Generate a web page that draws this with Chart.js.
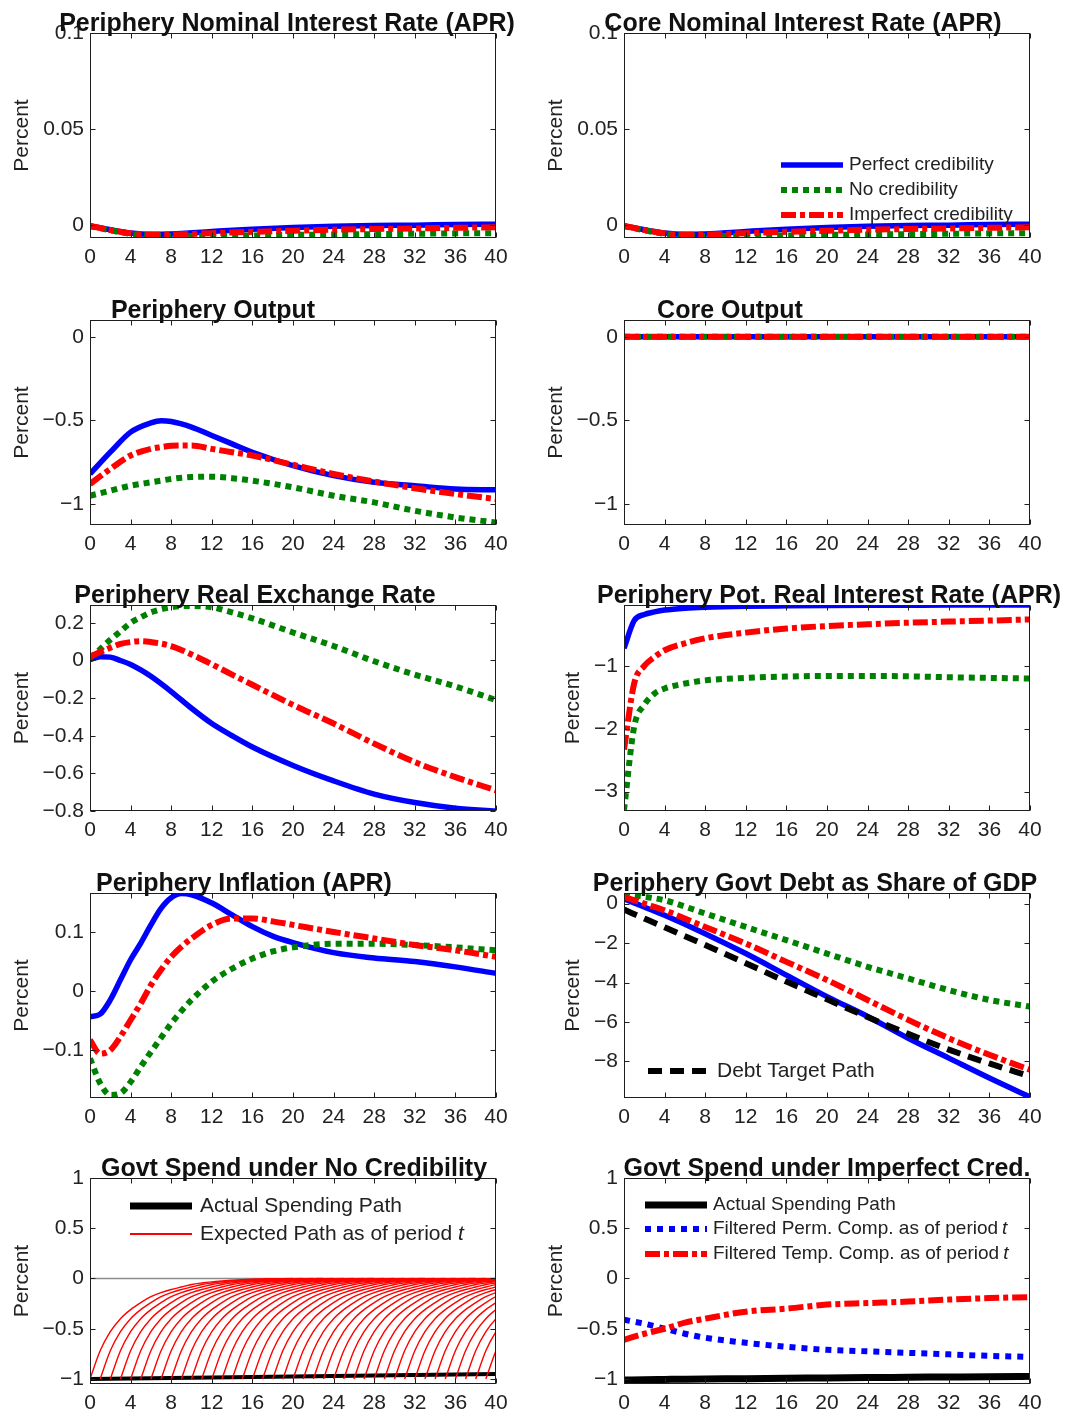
<!DOCTYPE html>
<html><head><meta charset="utf-8">
<script src="https://cdn.jsdelivr.net/npm/chart.js@4.4.1/dist/chart.umd.min.js"></script>
<style>
html,body{margin:0;padding:0;background:#fff;}
#wrap{position:relative;width:1067px;height:1413px;overflow:hidden;background:#fff;}
canvas{position:absolute;}
</style></head><body><div id="wrap"></div>
<script>
// ---------------- DATA ----------------
const xTicks = [0,4,8,12,16,20,24,28,32,36,40];

// Nominal interest rates (APR)
const nomX = [0,2,4,6,8,12,16,20,24,28,32,36,40];
const perNomPerfect   = [-0.0005,-0.0025,-0.0042,-0.0049,-0.0047,-0.0034,-0.0022,-0.0013,-0.0007,-0.0003,-0.0001,0.0002,0.0004];
const perNomNo        = [-0.0006,-0.0028,-0.0047,-0.0055,-0.0057,-0.0057,-0.0055,-0.0052,-0.0050,-0.0048,-0.0046,-0.0044,-0.0043];
const perNomImperfect = [-0.0005,-0.0026,-0.0044,-0.0051,-0.0050,-0.0043,-0.0036,-0.0030,-0.0025,-0.0021,-0.0018,-0.0015,-0.0012];
const coreNomPerfect   = [-0.0005,-0.0025,-0.0042,-0.0049,-0.0047,-0.0034,-0.0022,-0.0013,-0.0007,-0.0003,-0.0001,0.0002,0.0004];
const coreNomNo        = [-0.0006,-0.0028,-0.0047,-0.0055,-0.0057,-0.0057,-0.0055,-0.0052,-0.0050,-0.0048,-0.0046,-0.0044,-0.0043];
const coreNomImperfect = [-0.0005,-0.0026,-0.0044,-0.0051,-0.0050,-0.0043,-0.0036,-0.0030,-0.0025,-0.0021,-0.0018,-0.0015,-0.0012];
const nomYTicks = [0,0.05,0.1];

// Output
const outX = [0,2,4,6,7,8,10,12,14,16,20,24,28,32,36,40];
const perOutPerfect   = [-0.82,-0.69,-0.57,-0.515,-0.502,-0.507,-0.54,-0.59,-0.64,-0.69,-0.77,-0.83,-0.87,-0.89,-0.91,-0.915];
const perOutNo        = [-0.95,-0.92,-0.89,-0.87,-0.86,-0.85,-0.838,-0.836,-0.845,-0.86,-0.90,-0.95,-0.99,-1.04,-1.08,-1.11];
const perOutImperfect = [-0.88,-0.79,-0.71,-0.67,-0.66,-0.652,-0.65,-0.67,-0.69,-0.71,-0.765,-0.82,-0.865,-0.905,-0.94,-0.97];
const coreOutX = [0,4,8,12,16,20,24,28,32,36,40];
const coreOutPerfect   = [0,0,0,0,0,0,0,0,0,0,0];
const coreOutNo        = [0,0,0,0,0,0,0,0,0,0,0];
const coreOutImperfect = [0,0,0,0,0,0,0,0,0,0,0];
const outYTicks = [-1,-0.5,0];

// Real exchange rate
const rerX = [0,1,2,3,4,5,6,8,10,12,14,16,20,24,28,32,36,40];
const rerPerfect   = [0.005,0.02,0.018,0.0,-0.021,-0.05,-0.084,-0.165,-0.254,-0.335,-0.40,-0.46,-0.558,-0.64,-0.71,-0.755,-0.785,-0.80];
const rerNo        = [0.014,0.06,0.11,0.155,0.20,0.23,0.256,0.283,0.29,0.283,0.256,0.224,0.149,0.077,-0.004,-0.075,-0.138,-0.21];
const rerImperfect = [0.02,0.045,0.068,0.088,0.098,0.103,0.098,0.077,0.032,-0.02,-0.075,-0.129,-0.236,-0.335,-0.442,-0.54,-0.62,-0.69];
const rerYTicks = [-0.8,-0.6,-0.4,-0.2,0,0.2];

// Potential real interest rate
const prrX = [0,1,2,3,4,6,8,12,16,20,24,28,32,36,40];
const prrPerfect   = [-0.72,-0.28,-0.18,-0.14,-0.11,-0.08,-0.065,-0.05,-0.043,-0.038,-0.035,-0.033,-0.031,-0.03,-0.03];
const prrNo        = [-3.29,-1.97,-1.62,-1.44,-1.36,-1.28,-1.23,-1.19,-1.17,-1.16,-1.16,-1.165,-1.18,-1.19,-1.20];
const prrImperfect = [-2.33,-1.28,-1.0,-0.86,-0.75,-0.64,-0.56,-0.47,-0.405,-0.365,-0.337,-0.312,-0.294,-0.278,-0.26];
const prrYTicks = [-3,-2,-1];

// Inflation (APR)
const infX = [0,1,2,3,4,5,6,7,8,9,10,12,14,16,18,20,24,28,32,36,40];
const infPerfect   = [-0.0435,-0.039,-0.015,0.019,0.053,0.081,0.112,0.14,0.158,0.165,0.163,0.149,0.129,0.109,0.093,0.082,0.065,0.056,0.05,0.041,0.03];
const infNo        = [-0.114,-0.156,-0.176,-0.173,-0.154,-0.128,-0.103,-0.079,-0.055,-0.034,-0.015,0.016,0.038,0.055,0.067,0.074,0.08,0.08,0.078,0.074,0.069];
const infImperfect = [-0.083,-0.106,-0.10,-0.077,-0.049,-0.021,0.01,0.036,0.058,0.075,0.089,0.112,0.123,0.123,0.118,0.112,0.10,0.089,0.078,0.069,0.058];
const infYTicks = [-0.1,0,0.1];

// Government debt as share of GDP
const debtX = [0,2,4,8,12,16,20,24,28,32,36,40];
const debtPerfect   = [0.25,-0.17,-0.59,-1.52,-2.53,-3.62,-4.71,-5.72,-6.82,-7.83,-8.84,-9.8];
const debtNo        = [0.5,0.35,0.17,-0.5,-1.18,-1.85,-2.53,-3.2,-3.79,-4.38,-4.88,-5.22];
const debtImperfect = [0.34,0.0,-0.34,-1.18,-2.02,-2.95,-3.87,-4.88,-5.89,-6.82,-7.66,-8.42];
const debtTarget    = [-0.3,-0.75,-1.2,-2.1,-3.02,-3.95,-4.85,-5.75,-6.6,-7.4,-8.1,-8.75];
const debtYTicks = [-8,-6,-4,-2,0];

// Govt spending under no credibility
const spendX = [0,8,16,24,32,40];
const actualSpendNo = [-1.0,-0.99,-0.98,-0.97,-0.96,-0.95];
const expectedProfile = [-1,-0.72,-0.53,-0.4,-0.31,-0.24,-0.18,-0.14,-0.11,-0.085,-0.06,-0.045,-0.034,-0.025,-0.017,-0.011,-0.007,-0.004,-0.002,-0.001,0];
const spendYTicks = [-1,-0.5,0,0.5,1];

// Govt spending under imperfect credibility
const impX = [0,2,4,6,8,12,16,20,24,28,32,36,40];
const actualSpendImp = [-1.01,-1.008,-1.005,-1.002,-1.0,-0.997,-0.993,-0.99,-0.986,-0.983,-0.98,-0.977,-0.975];
const filteredPerm   = [-0.41,-0.45,-0.5,-0.55,-0.59,-0.64,-0.68,-0.71,-0.725,-0.74,-0.755,-0.77,-0.78];
const filteredTemp   = [-0.61,-0.55,-0.5,-0.44,-0.4,-0.33,-0.3,-0.26,-0.245,-0.23,-0.21,-0.195,-0.185];

// ---------------- STYLE / LAYOUT ----------------
const FONT = '"Liberation Sans", Arial, Helvetica, sans-serif';
Chart.defaults.font.family = FONT;
Chart.defaults.font.size = 21;
Chart.defaults.color = '#222';

const BLUE = '#0000ff', GREEN = '#008000', RED = '#ff0000', BLACK = '#000000';
const S = {
  perfect:   {color: BLUE,  width: 5.5, dash: []},
  no:        {color: GREEN, width: 6, dash: [6,5]},
  imperfect: {color: RED,   width: 6, dash: [15,4,5,4]},
  target:    {color: BLACK, width: 6, dash: [14,8]},
  actual:    {color: BLACK, width: 7, dash: []},
  actualThin:{color: BLACK, width: 4, dash: []},
  perm:      {color: BLUE,  width: 6, dash: [6,6]},
  expected:  {color: RED,   width: 1.4, dash: []},
  zero:      {color: '#8c8c8c', width: 1.5, dash: []}
};

function pts(xs, ys){ return xs.map((x,i)=>({x:x, y:ys[i]})); }
function ds(xs, ys, st, order){
  return {data: pts(xs, ys), borderColor: st.color, borderWidth: st.width, borderDash: st.dash,
    borderCapStyle: 'butt', borderJoinStyle: 'round', pointRadius: 0, fill: false,
    cubicInterpolationMode: 'monotone', order: order};
}
function fmt(v){
  if (Math.abs(v) < 1e-12) return '0';
  return String(+(+v).toFixed(4)).replace('-', '\u2212');
}

const ROWS = [{top:0,h:283},{top:283,h:287},{top:570,h:285},{top:855,h:285},{top:1140,h:273}];
const COLS = [0, 534];
const CW = 533;

const credLegend = (x0, ys, tx, size) => [
  {label:'Perfect credibility', st:S.perfect, y:ys[0]},
  {label:'No credibility', st:S.no, y:ys[1]},
  {label:'Imperfect credibility', st:S.imperfect, y:ys[2]}
].map(o => Object.assign(o, {x0:x0, x1:x0+62, tx:tx, size:size}));

const fan = [];
for (let t = 0; t < 40; t++) {
  const xs = expectedProfile.map((_, k) => t + k);
  fan.push(ds(xs, expectedProfile, S.expected, 2));
}

const panels = [
  {col:0,row:0, rect:[90,33,496,238], ymin:-0.0068, ymax:0.1, yTicks:nomYTicks,
   title:'Periphery Nominal Interest Rate (APR)', titleCx:287, ylabX:22,
   datasets:[ds(nomX,perNomPerfect,S.perfect,3), ds(nomX,perNomNo,S.no,2), ds(nomX,perNomImperfect,S.imperfect,1)]},
  {col:1,row:0, rect:[624,33,1030,238], ymin:-0.0068, ymax:0.1, yTicks:nomYTicks,
   title:'Core Nominal Interest Rate (APR)', titleCx:803, ylabX:556,
   datasets:[ds(nomX,coreNomPerfect,S.perfect,3), ds(nomX,coreNomNo,S.no,2), ds(nomX,coreNomImperfect,S.imperfect,1)],
   legend: credLegend(781,[165,190,215],849,19)},
  {col:0,row:1, rect:[90,320,496,525], ymin:-1.125, ymax:0.1, yTicks:outYTicks,
   title:'Periphery Output', titleCx:213, ylabX:22,
   datasets:[ds(outX,perOutPerfect,S.perfect,3), ds(outX,perOutNo,S.no,2), ds(outX,perOutImperfect,S.imperfect,1)]},
  {col:1,row:1, rect:[624,320,1030,525], ymin:-1.125, ymax:0.1, yTicks:outYTicks,
   title:'Core Output', titleCx:730, ylabX:556,
   datasets:[ds(coreOutX,coreOutPerfect,S.perfect,3), ds(coreOutX,coreOutNo,S.no,2), ds(coreOutX,coreOutImperfect,S.imperfect,1)]},
  {col:0,row:2, rect:[90,605,496,811], ymin:-0.8, ymax:0.295, yTicks:rerYTicks,
   title:'Periphery Real Exchange Rate', titleCx:255, ylabX:22,
   datasets:[ds(rerX,rerPerfect,S.perfect,3), ds(rerX,rerNo,S.no,2), ds(rerX,rerImperfect,S.imperfect,1)]},
  {col:1,row:2, rect:[624,605,1030,811], ymin:-3.31, ymax:-0.03, yTicks:prrYTicks,
   title:'Periphery Pot. Real Interest Rate (APR)', titleCx:829, ylabX:573,
   datasets:[ds(prrX,prrPerfect,S.perfect,3), ds(prrX,prrNo,S.no,2), ds(prrX,prrImperfect,S.imperfect,1)]},
  {col:0,row:3, rect:[90,893,496,1098], ymin:-0.181, ymax:0.166, yTicks:infYTicks,
   title:'Periphery Inflation (APR)', titleCx:244, ylabX:22,
   datasets:[ds(infX,infPerfect,S.perfect,3), ds(infX,infNo,S.no,2), ds(infX,infImperfect,S.imperfect,1)]},
  {col:1,row:3, rect:[624,893,1030,1098], ymin:-9.85, ymax:0.54, yTicks:debtYTicks,
   title:'Periphery Govt Debt as Share of GDP', titleCx:815, ylabX:573,
   datasets:[ds(debtX,debtPerfect,S.perfect,4), ds(debtX,debtNo,S.no,3), ds(debtX,debtImperfect,S.imperfect,2), ds(debtX,debtTarget,S.target,1)],
   legend:[{label:'Debt Target Path', st:S.target, y:1071, x0:648, x1:710, tx:717, size:21}]},
  {col:0,row:4, rect:[90,1178,496,1384], ymin:-1.05, ymax:1, yTicks:spendYTicks,
   title:'Govt Spend under No Credibility', titleCx:294, ylabX:22,
   datasets:[ds([0,40],[0,0],S.zero,5), ds(spendX,actualSpendNo,S.actualThin,4)].concat(fan),
   legend:[{label:'Actual Spending Path', st:S.actual, y:1206, x0:130, x1:192, tx:200, size:21},
           {label:'Expected Path as of period ', italic:'t', st:{color:RED,width:2,dash:[]}, y:1234, x0:130, x1:192, tx:200, size:21}]},
  {col:1,row:4, rect:[624,1178,1030,1384], ymin:-1.05, ymax:1, yTicks:spendYTicks,
   title:'Govt Spend under Imperfect Cred.', titleCx:827, ylabX:556,
   datasets:[ds(impX,actualSpendImp,S.actual,3), ds(impX,filteredPerm,S.perm,2), ds(impX,filteredTemp,S.imperfect,1)],
   legend:[{label:'Actual Spending Path', st:S.actual, y:1205, x0:645, x1:707, tx:713, size:19},
           {label:'Filtered Perm. Comp. as of period', italic:'t', st:S.perm, y:1229, x0:645, x1:707, tx:713, size:19},
           {label:'Filtered Temp. Comp. as of period', italic:'t', st:S.imperfect, y:1254, x0:645, x1:707, tx:713, size:19}]}
];

const wrap = document.getElementById('wrap');

function makePanel(p){
  const ox = COLS[p.col], oy = ROWS[p.row].top, H = ROWS[p.row].h;
  const c = document.createElement('canvas');
  c.width = CW; c.height = H;
  c.style.left = ox+'px'; c.style.top = oy+'px';
  c.style.width = CW+'px'; c.style.height = H+'px';
  wrap.appendChild(c);
  const [L,T,R,B] = p.rect;
  const yW = L-ox, tPad = T-oy, rPad = ox+CW-R, xH = oy+H-B;

  const deco = {
    id: 'matlabDeco',
    afterDraw(chart){
      const ctx = chart.ctx, a = chart.chartArea, xs = chart.scales.x, ys = chart.scales.y;
      ctx.save();
      ctx.setLineDash([]);
      ctx.strokeStyle = '#1e1e1e'; ctx.lineWidth = 1;
      const l = Math.round(a.left)+0.5, t = Math.round(a.top)+0.5, r = Math.round(a.right)-0.5, b = Math.round(a.bottom)-0.5;
      ctx.strokeRect(l, t, r-l, b-t);
      const tl = 5;
      ctx.beginPath();
      xs.ticks.forEach(tk => {
        const px = Math.round(xs.getPixelForValue(tk.value))+0.5;
        ctx.moveTo(px, b); ctx.lineTo(px, b-tl);
        ctx.moveTo(px, t); ctx.lineTo(px, t+tl);
      });
      ys.ticks.forEach(tk => {
        const py = Math.round(ys.getPixelForValue(tk.value))+0.5;
        ctx.moveTo(l, py); ctx.lineTo(l+tl, py);
        ctx.moveTo(r, py); ctx.lineTo(r-tl, py);
      });
      ctx.stroke();
      // legend
      (p.legend||[]).forEach(it => {
        ctx.save();
        ctx.strokeStyle = it.st.color; ctx.lineWidth = it.st.width;
        ctx.setLineDash(it.st.dash); ctx.lineCap = 'butt';
        ctx.beginPath(); ctx.moveTo(it.x0-ox, it.y-oy); ctx.lineTo(it.x1-ox, it.y-oy); ctx.stroke();
        ctx.restore();
        ctx.fillStyle = '#222';
        ctx.font = it.size+'px '+FONT;
        ctx.textAlign = 'left'; ctx.textBaseline = 'middle';
        ctx.fillText(it.label, it.tx-ox, it.y-oy);
        if (it.italic){
          const w = ctx.measureText(it.label).width;
          ctx.font = 'italic '+it.size+'px '+FONT;
          ctx.fillText(it.italic, it.tx-ox+w+(it.label.endsWith(' ')?0:4), it.y-oy);
        }
      });
      // y label
      ctx.save();
      ctx.fillStyle = '#222';
      ctx.font = '21px '+FONT;
      ctx.translate(p.ylabX-ox, (a.top+a.bottom)/2);
      ctx.rotate(-Math.PI/2);
      ctx.textAlign = 'center'; ctx.textBaseline = 'middle';
      ctx.fillText('Percent', 0, 0);
      ctx.restore();
      // title
      ctx.fillStyle = '#111';
      ctx.font = 'bold 25px '+FONT;
      ctx.textAlign = 'center'; ctx.textBaseline = 'alphabetic';
      ctx.fillText(p.title, p.titleCx-ox, a.top-2);
      ctx.restore();
    }
  };

  new Chart(c, {
    type: 'line',
    data: {datasets: p.datasets},
    options: {
      responsive: false, animation: false, devicePixelRatio: 1,
      layout: {padding: {left: 0, top: tPad, right: rPad, bottom: 0}},
      plugins: {legend: {display: false}, tooltip: {enabled: false}, title: {display: false}},
      scales: {
        x: {type: 'linear', min: 0, max: 40,
            afterBuildTicks: s => { s.ticks = xTicks.map(v => ({value: v})); },
            afterFit: s => { s.height = xH; },
            grid: {display: false, drawTicks: false, tickLength: 0}, border: {display: false},
            ticks: {padding: 7, maxRotation: 0, autoSkip: false, color: '#222', callback: v => fmt(v)}},
        y: {type: 'linear', min: p.ymin, max: p.ymax,
            afterBuildTicks: s => { s.ticks = p.yTicks.map(v => ({value: v})); },
            afterFit: s => { s.width = yW; },
            grid: {display: false, drawTicks: false, tickLength: 0}, border: {display: false},
            ticks: {padding: 6, autoSkip: false, color: '#222', callback: v => fmt(v)}}
      }
    },
    plugins: [deco]
  });
}
panels.forEach(makePanel);
</script>
</body></html>
